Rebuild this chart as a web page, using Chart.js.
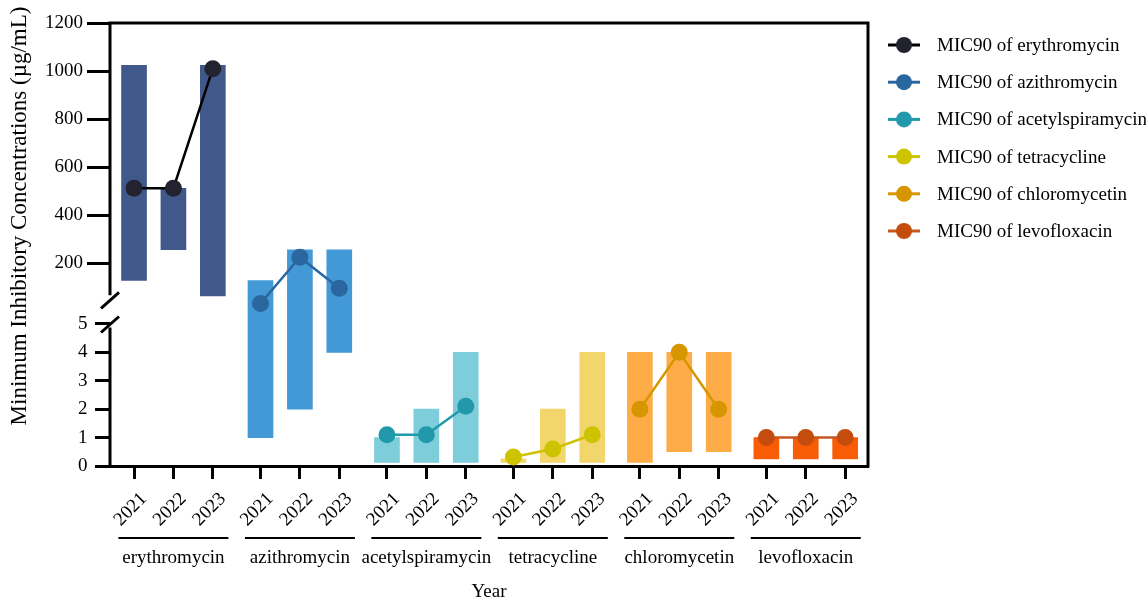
<!DOCTYPE html>
<html>
<head>
<meta charset="utf-8">
<script src="https://cdn.jsdelivr.net/npm/chart.js@4"></script>
<style>
  html, body { margin: 0; padding: 0; background: #ffffff; }
</style>
</head>
<body>
<canvas id="micChart" width="1146" height="598"></canvas>
<script>
// MIC90 and MIC range per antibiotic and year (µg/mL)
const drugs = ["erythromycin", "azithromycin", "acetylspiramycin", "tetracycline", "chloromycetin", "levofloxacin"];
const years = ["2021", "2022", "2023"];
const rangeLow = [
	[128, 256, 64],
	[1, 2, 4],
	[0.125, 0.125, 0.125],
	[0.125, 0.125, 0.125],
	[0.125, 0.5, 0.5],
	[0.25, 0.25, 0.25],
];
const rangeHigh = [
	[1024, 512, 1024],
	[128, 256, 256],
	[1, 2, 4],
	[0.25, 2, 4],
	[4, 4, 4],
	[1, 1, 1],
];
const mic90 = [
	[512, 512, 1010],
	[32, 225, 96],
	[1.1, 1.1, 2.1],
	[0.32, 0.6, 1.1],
	[2, 4, 2],
	[1, 1, 1],
];
const yLowerTicks = [0, 1, 2, 3, 4, 5];
const yUpperTicks = [200, 400, 600, 800, 1000, 1200];

const barColors = ["#41598a", "#4398d6", "#7dcddb", "#f2d66c", "#feac48", "#f85c05"];
const pointColors = ["#23222f", "#2a679f", "#2199aa", "#cdc300", "#d69600", "#c44d0e"];
const lineColors = ["#000000", "#2a679f", "#2199aa", "#cdc300", "#d69600", "#c8561f"];

const serif = "'Liberation Serif', 'Times New Roman', serif";

// Broken y axis: 0-5 keeps its own scale at the bottom, 0-1200 is squeezed above it
const LOWER_TOP = 5;
const UPPER_BASE = 5.447;
const UPPER_PER_UNIT = 118.3;
const toAxis = (v) => (v <= LOWER_TOP ? v : UPPER_BASE + v / UPPER_PER_UNIT);
const BREAK_UPPER = 5.83;
const BREAK_LOWER = 4.98;

// x positions: three years per drug, a little extra room between drugs
const GROUP_STRIDE = 3.21;
const xPos = (g, i) => g * GROUP_STRIDE + i;
const tickPositions = drugs.flatMap((d, g) => years.map((yr, i) => xPos(g, i)));

const datasets = [];
drugs.forEach((drug, g) => {
	datasets.push({
		type: "line",
		label: `MIC90 of ${drug}`,
		data: years.map((yr, i) => ({ x: xPos(g, i), y: toAxis(mic90[g][i]) })),
		borderColor: lineColors[g],
		backgroundColor: pointColors[g],
		pointBackgroundColor: pointColors[g],
		pointBorderWidth: 0,
		pointRadius: 8.5,
		borderWidth: 2.5,
		order: 0,
	});
	datasets.push({
		type: "bar",
		label: drug,
		data: years.map((yr, i) => ({
			x: xPos(g, i),
			y: [toAxis(rangeLow[g][i]), toAxis(rangeHigh[g][i])],
		})),
		backgroundColor: barColors[g],
		barThickness: 25,
		grouped: false,
		order: 1,
	});
});

const tickGrid = (len) => ({
	drawOnChartArea: false,
	tickLength: len,
	tickWidth: 3,
	tickColor: "#000",
});
const tickFont = { family: serif, size: 19 };

// frame, axis break, drug labels, y title and legend
const decorations = {
	id: "decorations",
	afterDraw(chart) {
		const { ctx, chartArea, scales } = chart;
		const { left, right, top, bottom } = chartArea;
		const x = scales.x;
		const y = scales.y;
		ctx.save();
		ctx.strokeStyle = "#000";
		ctx.lineWidth = 3;

		ctx.beginPath();
		ctx.moveTo(left - 1.5, top);
		ctx.lineTo(right, top);
		ctx.lineTo(right, bottom + 1.5);
		ctx.stroke();

		const yBreakHi = y.getPixelForValue(BREAK_UPPER);
		const yBreakLo = y.getPixelForValue(BREAK_LOWER);
		ctx.beginPath();
		ctx.moveTo(left, top);
		ctx.lineTo(left, yBreakHi - 5);
		ctx.moveTo(left, yBreakLo + 3);
		ctx.lineTo(left, bottom);
		ctx.stroke();
		[yBreakHi, yBreakLo].forEach((yy) => {
			ctx.beginPath();
			ctx.moveTo(left - 9, yy + 8);
			ctx.lineTo(left + 9, yy - 8);
			ctx.stroke();
		});

		ctx.fillStyle = "#000";
		ctx.font = `19px ${serif}`;
		ctx.textAlign = "center";
		ctx.textBaseline = "middle";
		ctx.lineWidth = 2;
		drugs.forEach((drug, g) => {
			const cx = x.getPixelForValue(xPos(g, 1));
			ctx.beginPath();
			ctx.moveTo(cx - 55, bottom + 72);
			ctx.lineTo(cx + 55, bottom + 72);
			ctx.stroke();
			ctx.fillText(drug, cx, bottom + 92);
		});

		ctx.save();
		ctx.font = `23px ${serif}`;
		ctx.translate(20, 216);
		ctx.rotate(-Math.PI / 2);
		ctx.fillText("Minimum Inhibitory Concentrations (µg/mL)", 0, 0);
		ctx.restore();

		ctx.textAlign = "left";
		drugs.forEach((drug, g) => {
			const yy = 45 + g * 37.2;
			const lx = right + 20;
			ctx.strokeStyle = lineColors[g];
			ctx.lineWidth = 3;
			ctx.beginPath();
			ctx.moveTo(lx, yy);
			ctx.lineTo(lx + 32, yy);
			ctx.stroke();
			ctx.fillStyle = pointColors[g];
			ctx.beginPath();
			ctx.arc(lx + 16, yy, 8, 0, Math.PI * 2);
			ctx.fill();
			ctx.fillStyle = "#000";
			ctx.fillText(`MIC90 of ${drug}`, lx + 49, yy + 1);
		});
		ctx.restore();
	},
};

new Chart(document.getElementById("micChart"), {
	type: "bar",
	data: { datasets },
	options: {
		responsive: false,
		animation: false,
		devicePixelRatio: 1,
		layout: { padding: { top: 23, right: 278, left: 0, bottom: 0 } },
		plugins: {
			legend: { display: false },
			tooltip: { enabled: false },
		},
		scales: {
			x: {
				type: "linear",
				min: -0.61,
				max: 18.63,
				offset: false,
				afterBuildTicks: (scale) => {
					scale.ticks = tickPositions.map((v) => ({ value: v }));
				},
				afterFit: (scale) => {
					scale.height = 132;
				},
				grid: { ...tickGrid(13), offset: false },
				border: { display: true, color: "#000", width: 3 },
				ticks: {
					autoSkip: false,
					minRotation: 45,
					maxRotation: 45,
					labelOffset: 10,
					padding: 9,
					color: "#000",
					font: tickFont,
					callback: (value, index) => years[index % 3],
				},
				title: {
					display: true,
					text: "Year",
					color: "#000",
					font: { family: serif, size: 19, lineHeight: 1 },
					padding: { top: 0, bottom: -4 },
				},
			},
			// lower segment ticks (0-5); zero width, labels mirrored back out to the left
			y: {
				position: "left",
				weight: 0,
				min: 0,
				max: toAxis(1200),
				afterBuildTicks: (scale) => {
					scale.ticks = yLowerTicks.map((v) => ({ value: toAxis(v) }));
				},
				afterFit: (scale) => {
					scale.width = 0;
				},
				grid: tickGrid(15),
				border: { display: false },
				ticks: {
					mirror: true,
					padding: -32,
					color: "#000",
					font: tickFont,
					callback: (value, index) => yLowerTicks[index],
				},
			},
			// upper segment ticks (200-1200), longer tick marks
			yUpper: {
				position: "left",
				weight: 1,
				min: 0,
				max: toAxis(1200),
				afterBuildTicks: (scale) => {
					scale.ticks = yUpperTicks.map((v) => ({ value: toAxis(v) }));
				},
				afterFit: (scale) => {
					scale.width = 110;
				},
				grid: tickGrid(23),
				border: { display: false },
				ticks: {
					padding: 4,
					color: "#000",
					font: tickFont,
					callback: (value, index) => yUpperTicks[index],
				},
			},
		},
	},
	plugins: [decorations],
});
</script>
</body>
</html>
